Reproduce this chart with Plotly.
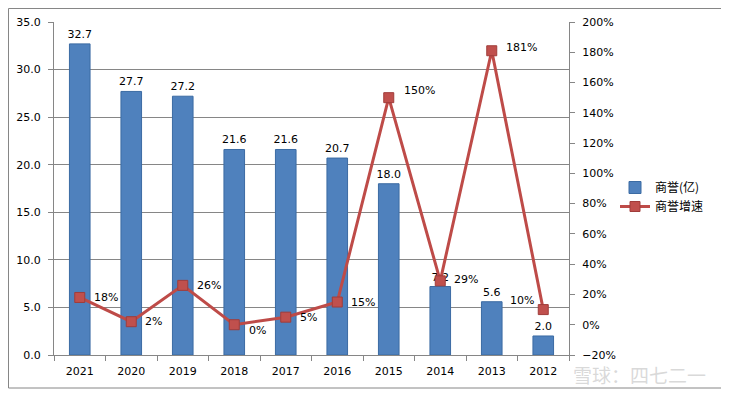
import plotly.graph_objects as go

years = ["2021", "2020", "2019", "2018", "2017", "2016", "2015", "2014", "2013", "2012"]
goodwill = [32.7, 27.7, 27.2, 21.6, 21.6, 20.7, 18.0, 7.2, 5.6, 2.0]
growth = [18, 2, 26, 0, 5, 15, 150, 29, 181, 10]

# label offsets (pixels) for the growth labels: (xshift, yshift, anchor)
label_offsets = [(12, 0, "left"), (12, 0, "left"), (12, 0, "left"), (13, -6, "left"),
                 (12, 0, "left"), (12, 0, "left"), (13, 7, "left"), (12, 1, "left"),
                 (12, 3, "left"), (-7, 9, "right")]

# The page body adds an 8px offset; work in reference coordinates minus 8.
OFF = 8
W, H = 729 - OFF, 393 - OFF
L, R, T, B = 54 - OFF, 569 - OFF, 22 - OFF, 355 - OFF
pw, ph = R - L, B - T

def px(x):
    return (x - OFF - L) / pw

def py(y):
    return (B - (y - OFF)) / ph

font = "DejaVu Sans"

fig = go.Figure()
fig.add_trace(go.Bar(
    x=years, y=goodwill, name="商誉(亿)",
    marker=dict(color="#4F81BD", line=dict(color="#3B6BA3", width=1)),
    width=0.4,
    text=[f"{v:.1f}" for v in goodwill], textposition="outside",
    textfont=dict(family=font, size=11, color="#000000"),
    constraintext="none",
    cliponaxis=False,
))
fig.add_trace(go.Scatter(
    x=years, y=growth, name="商誉增速", yaxis="y2",
    mode="lines+markers",
    line=dict(color="#BE4B48", width=3),
    marker=dict(symbol="square", size=10, color="#C0504D", line=dict(color="#A03C3A", width=1)),
    cliponaxis=False,
))

annotations = []
for i, (g, (dx, dy, anc)) in enumerate(zip(growth, label_offsets)):
    annotations.append(dict(x=i, y=g, xref="x", yref="y2", text=f"{g}%",
                            showarrow=False, xanchor=anc, yanchor="middle",
                            xshift=dx, yshift=dy,
                            font=dict(family=font, size=11, color="#000000")))
annotations.append(dict(text="雪球：四七二一", xref="paper", yref="paper",
                        x=px(708), y=py(374), xanchor="right", yanchor="middle",
                        showarrow=False,
                        font=dict(family="Noto Sans CJK SC", size=19,
                                  color="rgba(185,185,185,0.55)")))

fig.update_layout(
    width=W, height=H,
    margin=dict(l=L, r=W - R, t=T, b=H - B, autoexpand=False),
    paper_bgcolor="white", plot_bgcolor="white",
    font=dict(family=font, size=11, color="#000000"),
    showlegend=True,
    legend=dict(x=px(615), y=py(173), xanchor="left", yanchor="top",
                font=dict(family="Noto Sans CJK SC", size=12), tracegroupgap=2,
                bgcolor="rgba(0,0,0,0)"),
    xaxis=dict(type="category", range=[-0.5, len(years) - 0.5],
               showline=True, linecolor="#868686", linewidth=1,
               ticks="outside", tickson="boundaries", ticklen=5, tickcolor="#868686",
               showgrid=False, tickfont=dict(size=11), automargin=False,
               ticklabelstandoff=6),
    yaxis=dict(range=[0, 35], dtick=5, tickformat=".1f", showline=True,
               linecolor="#868686", ticks="outside", ticklen=5, tickcolor="#868686",
               showgrid=True, gridcolor="#868686", gridwidth=1, zeroline=False,
               tickfont=dict(size=11), automargin=False, ticklabelstandoff=5),
    yaxis2=dict(range=[-20, 200], dtick=20, ticksuffix="%", overlaying="y", side="right",
                showline=True, linecolor="#868686", ticks="outside", ticklen=5,
                tickcolor="#868686", showgrid=False, zeroline=False,
                tickfont=dict(size=11), automargin=False, ticklabelstandoff=5),
    shapes=[dict(type="rect", xref="paper", yref="paper",
                 x0=px(8.5), x1=px(724.5), y0=py(388), y1=py(8.5),
                 line=dict(color="#868686", width=1), fillcolor="rgba(0,0,0,0)",
                 layer="below")],
    annotations=annotations,
)

fig.write_html("out.html")
